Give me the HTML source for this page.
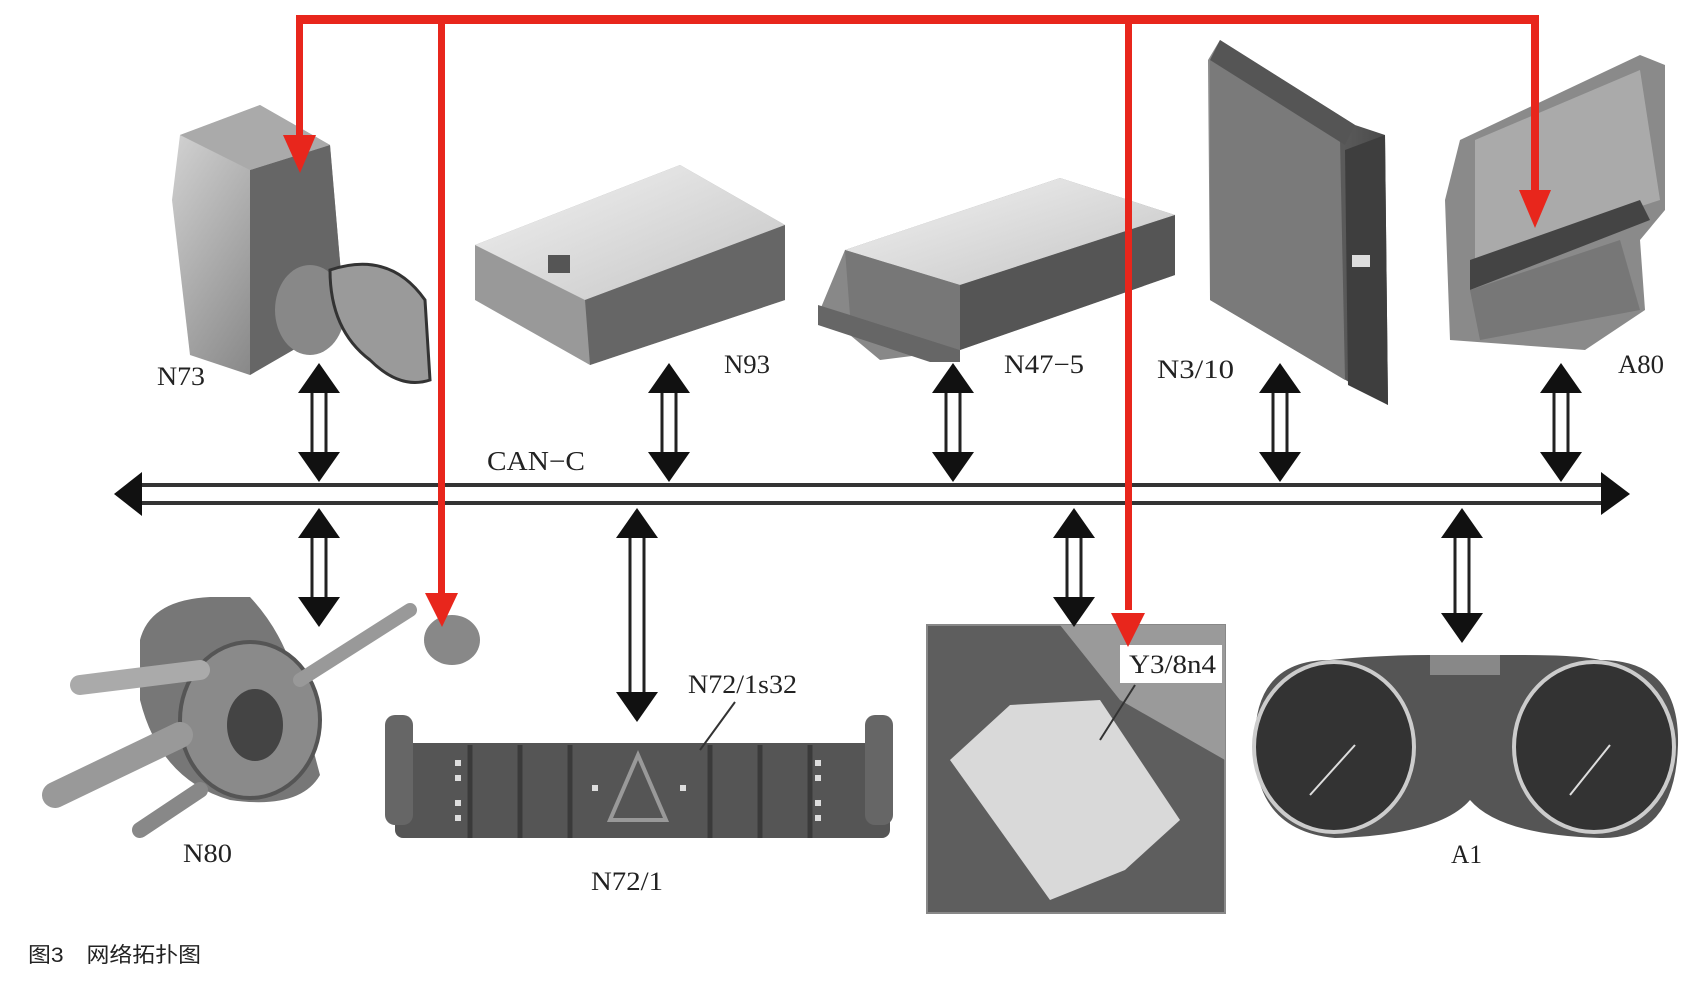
<!DOCTYPE html>
<html><head><meta charset="utf-8"><style>
html,body{margin:0;padding:0;background:#fff;}
svg{display:block;}
text{font-family:"Liberation Serif",serif;fill:#222;}
</style></head><body>
<svg width="1700" height="1001" viewBox="0 0 1700 1001" xmlns="http://www.w3.org/2000/svg">
<defs>
<linearGradient id="g1" x1="0" y1="0" x2="1" y2="1"><stop offset="0" stop-color="#d8d8d8"/><stop offset="1" stop-color="#6a6a6a"/></linearGradient>
<linearGradient id="g2" x1="0" y1="0" x2="1" y2="0"><stop offset="0" stop-color="#8a8a8a"/><stop offset="1" stop-color="#4a4a4a"/></linearGradient>
<linearGradient id="g3" x1="0" y1="0" x2="1" y2="1"><stop offset="0" stop-color="#f2f2f2"/><stop offset="1" stop-color="#c4c4c4"/></linearGradient>
<g id="da">
<polygon points="0,0 -21,28 21,28" fill="#111"/>
<polygon points="0,0 -21,-28 21,-28" fill="#111" transform="translate(0,0)"/>
</g>
</defs>

<!-- N73 -->
<g>
<polygon points="180,135 260,105 330,145 345,320 250,375 190,355 172,200" fill="url(#g1)"/>
<polygon points="250,170 330,145 345,320 250,375" fill="#666"/>
<polygon points="180,135 260,105 330,145 250,170" fill="#aaa"/>
<ellipse cx="310" cy="310" rx="35" ry="45" fill="#888"/>
<path d="M330,270 Q390,250 425,300 L430,380 Q400,390 370,360 Q330,330 330,270Z" fill="#9a9a9a" stroke="#333" stroke-width="3"/>
</g>
<!-- N93 -->
<g>
<polygon points="475,245 680,165 785,225 785,300 590,365 475,300" fill="#999"/>
<polygon points="475,245 680,165 785,225 585,300" fill="url(#g3)"/>
<polygon points="585,300 785,225 785,300 590,365" fill="#666"/>
<rect x="548" y="255" width="22" height="18" fill="#555"/>
</g>
<!-- N47-5 -->
<g>
<polygon points="820,310 845,250 1060,178 1175,215 1175,275 960,350 880,360" fill="#888"/>
<polygon points="845,250 1060,178 1175,215 960,285" fill="url(#g3)"/>
<polygon points="960,285 1175,215 1175,275 960,350" fill="#555"/>
<polygon points="845,250 960,285 960,350 850,315" fill="#777"/>
<polygon points="818,305 850,315 960,350 960,362 930,362 818,325" fill="#666"/>
</g>
<!-- N3/10 -->
<g>
<polygon points="1208,60 1220,40 1355,125 1385,135 1388,405 1210,300" fill="url(#g2)"/>
<polygon points="1210,60 1340,140 1345,380 1210,300" fill="#7a7a7a"/>
<polygon points="1345,150 1385,135 1388,405 1348,385" fill="#3e3e3e"/>
<polygon points="1220,40 1355,125 1345,145 1210,60" fill="#555"/>
<rect x="1352" y="255" width="18" height="12" fill="#ddd"/>
</g>
<!-- A80 -->
<g>
<polygon points="1460,140 1640,55 1665,65 1665,210 1640,240 1645,310 1585,350 1450,340 1445,200" fill="#8a8a8a"/>
<polygon points="1475,140 1640,70 1660,200 1475,260" fill="#aaa"/>
<polygon points="1470,260 1640,200 1650,220 1470,290" fill="#444"/>
<polygon points="1470,290 1620,240 1640,310 1480,340" fill="#777"/>
</g>

<!-- N80 -->
<g>
<path d="M140,640 Q150,600 210,597 L250,597 Q290,640 300,700 L320,775 Q300,810 230,800 Q160,780 140,700Z" fill="#777"/>
<ellipse cx="250" cy="720" rx="70" ry="78" fill="#8a8a8a" stroke="#555" stroke-width="4"/>
<ellipse cx="255" cy="725" rx="28" ry="36" fill="#444"/>
<path d="M300,680 L410,610" stroke="#999" stroke-width="14" stroke-linecap="round"/>
<ellipse cx="452" cy="640" rx="28" ry="25" fill="#888"/>
<path d="M80,685 L200,670" stroke="#aaa" stroke-width="20" stroke-linecap="round"/>
<path d="M55,795 L180,735" stroke="#999" stroke-width="26" stroke-linecap="round"/>
<path d="M140,830 L200,790" stroke="#888" stroke-width="16" stroke-linecap="round"/>
</g>
<!-- N72/1 -->
<g>
<rect x="395" y="743" width="495" height="95" rx="8" fill="#555"/>
<rect x="385" y="715" width="28" height="110" rx="10" fill="#666"/>
<rect x="865" y="715" width="28" height="110" rx="10" fill="#666"/>
<g stroke="#3a3a3a" stroke-width="5">
<line x1="470" y1="745" x2="470" y2="838"/><line x1="520" y1="745" x2="520" y2="838"/><line x1="570" y1="745" x2="570" y2="838"/>
<line x1="710" y1="745" x2="710" y2="838"/><line x1="760" y1="745" x2="760" y2="838"/><line x1="810" y1="745" x2="810" y2="838"/>
</g>
<polygon points="638,755 610,820 666,820" fill="none" stroke="#999" stroke-width="4"/>
<g fill="#ddd"><rect x="455" y="760" width="6" height="6"/><rect x="455" y="775" width="6" height="6"/><rect x="455" y="800" width="6" height="6"/><rect x="455" y="815" width="6" height="6"/><rect x="815" y="760" width="6" height="6"/><rect x="815" y="775" width="6" height="6"/><rect x="815" y="800" width="6" height="6"/><rect x="815" y="815" width="6" height="6"/><rect x="592" y="785" width="6" height="6"/><rect x="680" y="785" width="6" height="6"/></g>
<line x1="700" y1="750" x2="735" y2="702" stroke="#333" stroke-width="2"/>
</g>
<!-- Y3/8n4 photo -->
<g>
<rect x="927" y="625" width="298" height="288" fill="#5e5e5e" stroke="#888" stroke-width="2"/>
<polygon points="1060,625 1225,625 1225,760 1120,700" fill="#9a9a9a"/>
<polygon points="950,760 1010,705 1100,700 1180,820 1125,870 1050,900" fill="#d9d9d9"/>
<rect x="1120" y="645" width="102" height="38" fill="#fff"/>
<line x1="1135" y1="685" x2="1100" y2="740" stroke="#333" stroke-width="2"/>
</g>
<!-- A1 -->
<g>
<path d="M1255,740 Q1255,660 1330,660 Q1380,655 1430,655 L1520,655 Q1580,655 1600,660 Q1680,660 1678,745 Q1675,840 1600,838 Q1500,835 1470,800 Q1440,835 1335,838 Q1252,830 1255,740Z" fill="#555"/>
<ellipse cx="1334" cy="747" rx="80" ry="85" fill="#333" stroke="#ccc" stroke-width="4"/>
<ellipse cx="1594" cy="747" rx="80" ry="85" fill="#333" stroke="#ccc" stroke-width="4"/>
<rect x="1430" y="655" width="70" height="20" fill="#888"/>
<line x1="1310" y1="795" x2="1355" y2="745" stroke="#ddd" stroke-width="2"/>
<line x1="1570" y1="795" x2="1610" y2="745" stroke="#ddd" stroke-width="2"/>
</g>

<!-- bus -->
<g>
<line x1="135" y1="485" x2="1605" y2="485" stroke="#333" stroke-width="4"/>
<line x1="135" y1="503" x2="1605" y2="503" stroke="#333" stroke-width="4"/>
<polygon points="114,494 142,472 142,516" fill="#111"/>
<polygon points="1630,494 1601,472 1601,515" fill="#111"/>
</g>
<!-- double arrows -->
<g stroke="#222" stroke-width="3" fill="#111">
<!-- above: top 363, bottom 482 -->
<g id="u1">
<line x1="312" y1="388" x2="312" y2="455"/><line x1="326" y1="388" x2="326" y2="455"/>
<polygon points="319,363 298,393 340,393" stroke="none"/><polygon points="319,482 298,452 340,452" stroke="none"/>
</g>
<use href="#u1" x="350"/>
<use href="#u1" x="634"/>
<use href="#u1" x="961"/>
<use href="#u1" x="1242"/>
<!-- below -->
<g id="d1">
<line x1="312" y1="535" x2="312" y2="600"/><line x1="326" y1="535" x2="326" y2="600"/>
<polygon points="319,508 298,538 340,538" stroke="none"/><polygon points="319,627 298,597 340,597" stroke="none"/>
</g>
<use href="#d1" x="755"/>
<line x1="630" y1="535" x2="630" y2="695"/><line x1="644" y1="535" x2="644" y2="695"/>
<polygon points="637,508 616,538 658,538" stroke="none"/><polygon points="637,722 616,692 658,692" stroke="none"/>
<line x1="1455" y1="535" x2="1455" y2="615"/><line x1="1469" y1="535" x2="1469" y2="615"/>
<polygon points="1462,508 1441,538 1483,538" stroke="none"/><polygon points="1462,643 1441,613 1483,613" stroke="none"/>
</g>

<!-- red lines -->
<g fill="#e8261c">
<rect x="296" y="15" width="1243" height="9"/>
<rect x="296" y="15" width="7" height="125"/>
<polygon points="283,135 316,135 300,173"/>
<rect x="438" y="15" width="7" height="585"/>
<polygon points="425,593 458,593 442,627"/>
<rect x="1125" y="15" width="7" height="595"/>
<polygon points="1111,613 1145,613 1128,647"/>
<rect x="1531" y="15" width="8" height="180"/>
<polygon points="1519,190 1551,190 1535,228"/>
</g>

<!-- labels -->
<text x="157" y="385" font-size="26" textLength="48" lengthAdjust="spacingAndGlyphs">N73</text>
<text x="724" y="373" font-size="26" textLength="46" lengthAdjust="spacingAndGlyphs">N93</text>
<text x="1004" y="373" font-size="26" textLength="80" lengthAdjust="spacingAndGlyphs">N47−5</text>
<text x="1157" y="378" font-size="26" textLength="77" lengthAdjust="spacingAndGlyphs">N3/10</text>
<text x="1618" y="373" font-size="26" textLength="46" lengthAdjust="spacingAndGlyphs">A80</text>
<text x="487" y="470" font-size="27" textLength="98" lengthAdjust="spacingAndGlyphs">CAN−C</text>
<text x="183" y="862" font-size="26" textLength="49" lengthAdjust="spacingAndGlyphs">N80</text>
<text x="591" y="890" font-size="26" textLength="72" lengthAdjust="spacingAndGlyphs">N72/1</text>
<text x="688" y="693" font-size="26" textLength="109" lengthAdjust="spacingAndGlyphs">N72/1s32</text>
<text x="1129" y="673" font-size="26" textLength="87" lengthAdjust="spacingAndGlyphs">Y3/8n4</text>
<text x="1451" y="863" font-size="26" textLength="31" lengthAdjust="spacingAndGlyphs">A1</text>
<text x="28" y="962" font-size="21" style="font-family:'Liberation Sans','Noto Sans CJK SC',sans-serif" textLength="173" lengthAdjust="spacingAndGlyphs">图3　网络拓扑图</text>
</svg>
</body></html>
